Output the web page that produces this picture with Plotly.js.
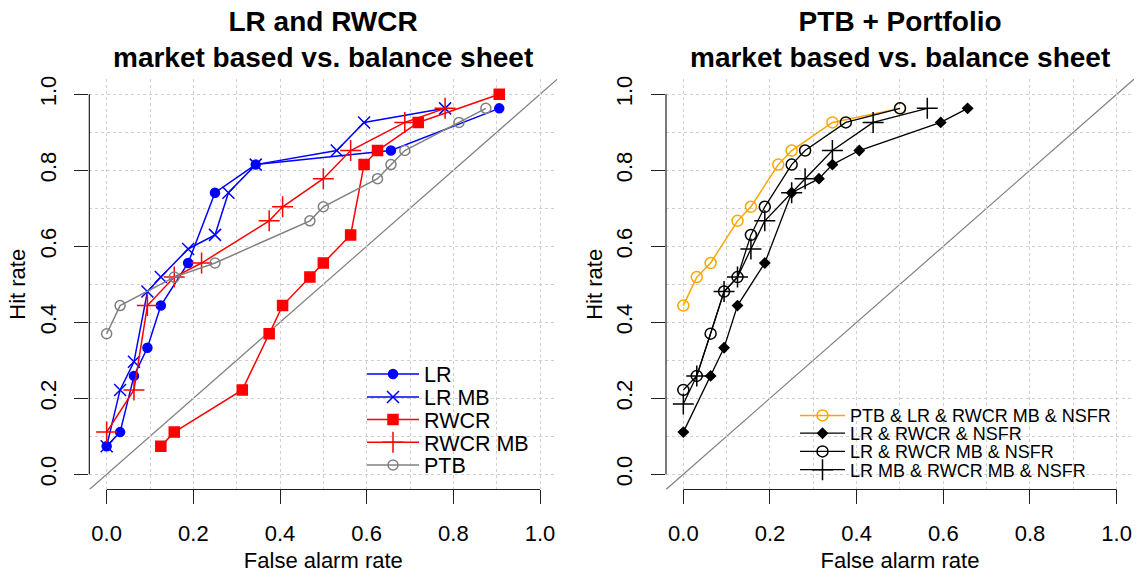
<!DOCTYPE html>
<html>
<head>
<meta charset="utf-8">
<script src="https://cdn.plot.ly/plotly-3.0.1.min.js"></script>
<style>html,body{margin:0;padding:0;background:#fff;}#chart{width:1137px;height:577px;}</style>
</head>
<body>
<div id="chart"></div>
<script>
// ---- Left panel: LR and RWCR ----
const lrX = [0, 0.031, 0.063, 0.094, 0.125, 0.188, 0.25, 0.344, 0.656, 0.906];
const lrY = [0.074, 0.111, 0.259, 0.333, 0.444, 0.556, 0.741, 0.815, 0.852, 0.963];
const lrMbX = [0, 0.031, 0.063, 0.094, 0.125, 0.188, 0.25, 0.281, 0.344, 0.531, 0.594, 0.781];
const lrMbY = [0.074, 0.222, 0.296, 0.481, 0.519, 0.593, 0.630, 0.741, 0.815, 0.852, 0.926, 0.963];
const rwcrX = [0.125, 0.156, 0.313, 0.375, 0.406, 0.469, 0.5, 0.563, 0.594, 0.625, 0.719, 0.906];
const rwcrY = [0.074, 0.111, 0.222, 0.370, 0.444, 0.519, 0.556, 0.630, 0.815, 0.852, 0.926, 1.0];
const rwcrMbX = [0, 0.063, 0.094, 0.156, 0.219, 0.375, 0.406, 0.5, 0.563, 0.688, 0.781];
const rwcrMbY = [0.111, 0.222, 0.444, 0.519, 0.556, 0.667, 0.704, 0.778, 0.852, 0.926, 0.963];
const ptbX = [0, 0.031, 0.156, 0.25, 0.469, 0.5, 0.625, 0.656, 0.688, 0.813, 0.875];
const ptbY = [0.370, 0.444, 0.519, 0.556, 0.667, 0.704, 0.778, 0.815, 0.852, 0.926, 0.963];

// ---- Right panel: PTB + Portfolio ----
const ptbAllX = [0, 0.031, 0.063, 0.125, 0.156, 0.219, 0.25, 0.344, 0.5];
const ptbAllY = [0.444, 0.519, 0.556, 0.667, 0.704, 0.815, 0.852, 0.926, 0.963];
const lrRwcrX = [0, 0.063, 0.094, 0.125, 0.188, 0.25, 0.313, 0.344, 0.406, 0.594, 0.656];
const lrRwcrY = [0.111, 0.259, 0.333, 0.444, 0.556, 0.741, 0.778, 0.815, 0.852, 0.926, 0.963];
const lrRwcrMbX = [0, 0.031, 0.063, 0.094, 0.125, 0.156, 0.188, 0.25, 0.281, 0.375, 0.5];
const lrRwcrMbY = [0.222, 0.259, 0.370, 0.481, 0.519, 0.630, 0.704, 0.815, 0.852, 0.926, 0.963];
const lrMbRwcrMbX = [0, 0.031, 0.094, 0.125, 0.156, 0.188, 0.25, 0.281, 0.344, 0.438, 0.563];
const lrMbRwcrMbY = [0.185, 0.259, 0.481, 0.519, 0.593, 0.667, 0.741, 0.778, 0.852, 0.926, 0.963];

const ticks = [0, 0.2, 0.4, 0.6, 0.8, 1.0];
const tickText = ['0.0', '0.2', '0.4', '0.6', '0.8', '1.0'];

const FONT = 'Liberation Sans, Arial, Helvetica, sans-serif';
const W = 1137, H = 577;

function tr(x, y, name, color, symbol, size, xa, ya, leg, lw) {
  return {
    x: x, y: y, name: name, type: 'scatter', mode: 'lines+markers',
    xaxis: xa, yaxis: ya, legend: leg,
    line: {color: color, width: lw || 1.5},
    marker: {symbol: symbol, size: size, color: color, line: {color: color, width: 1.5}},
    cliponaxis: false
  };
}

const data = [
  tr(lrX, lrY, 'LR', '#0000FF', 'circle', 9, 'x', 'y', 'legend'),
  tr(lrMbX, lrMbY, 'LR MB', '#0000FF', 'x-thin-open', 12, 'x', 'y', 'legend2'),
  tr(rwcrX, rwcrY, 'RWCR', '#FF0000', 'square', 10, 'x', 'y', 'legend3'),
  tr(rwcrMbX, rwcrMbY, 'RWCR MB', '#FF0000', 'cross-thin-open', 15, 'x', 'y', 'legend4'),
  tr(ptbX, ptbY, 'PTB', '#808080', 'circle-open', 10, 'x', 'y', 'legend5'),
  tr(ptbAllX, ptbAllY, 'PTB & LR & RWCR MB & NSFR', '#FFA500', 'circle-open', 11, 'x2', 'y2', 'legend6'),
  tr(lrRwcrX, lrRwcrY, 'LR & RWCR & NSFR', '#000000', 'diamond', 7.5, 'x2', 'y2', 'legend7', 1.3),
  tr(lrRwcrMbX, lrRwcrMbY, 'LR & RWCR MB & NSFR', '#000000', 'circle-open', 11, 'x2', 'y2', 'legend8', 1.3),
  tr(lrMbRwcrMbX, lrMbRwcrMbY, 'LR MB & RWCR MB & NSFR', '#000000', 'cross-thin-open', 15, 'x2', 'y2', 'legend9', 1.3)
];

const GRID = '#cfcfcf';
function xaxis(domain, anchor) {
  return {
    domain: domain, anchor: anchor, range: [-0.04, 1.04], autorange: false,
    tickmode: 'array', tickvals: ticks, ticktext: tickText,
    ticks: 'outside', ticklen: 14, tickwidth: 1, tickcolor: '#222',
    tickfont: {family: FONT, size: 22, color: '#000'}, ticklabelstandoff: 10,
    showline: false, zeroline: false,
    showgrid: true, gridcolor: GRID, griddash: 'dot', gridwidth: 1,
    minor: {tickvals: [0.1, 0.3, 0.5, 0.7, 0.9], showgrid: true, gridcolor: GRID, griddash: 'dot', gridwidth: 1, ticks: ''},
    title: {text: 'False alarm rate', font: {family: FONT, size: 22, color: '#000'}, standoff: 7},
    automargin: false, fixedrange: true
  };
}
function yaxis(anchor) {
  return {
    domain: [0.15165, 0.86291], anchor: anchor, range: [-0.04, 1.04], autorange: false,
    tickmode: 'array', tickvals: ticks, ticktext: tickText, tickangle: -90,
    ticks: 'outside', ticklen: 14, tickwidth: 1, tickcolor: '#222',
    tickfont: {family: FONT, size: 22, color: '#000'}, ticklabelstandoff: 10,
    showline: false, zeroline: false,
    showgrid: true, gridcolor: GRID, griddash: 'dot', gridwidth: 1,
    minor: {tickvals: [0.1, 0.3, 0.5, 0.7, 0.9], showgrid: true, gridcolor: GRID, griddash: 'dot', gridwidth: 1, ticks: ''},
    title: {text: 'Hit rate', font: {family: FONT, size: 22, color: '#000'}, standoff: 3},
    automargin: false, fixedrange: true
  };
}

function leg(xpx, ypx, size, iw) {
  return {
    x: xpx / W, y: 1 - ypx / H, xanchor: 'left', yanchor: 'middle',
    bgcolor: 'rgba(0,0,0,0)', borderwidth: 0, itemwidth: iw,
    font: {family: FONT, size: size, color: '#000'}, tracegroupgap: 0, itemclick: false, itemdoubleclick: false
  };
}

function axisLines(xa, ya) {
  const c = '#222';
  return [
    {type: 'line', xref: xa + ' domain', yref: ya, x0: 0, x1: 0, y0: 0, y1: 1, line: {color: c, width: 1.2}},
    {type: 'line', xref: xa, yref: ya + ' domain', x0: 0, x1: 1, y0: 0, y1: 0, line: {color: c, width: 1.2}},
    {type: 'line', xref: xa, yref: ya, x0: -0.04, y0: -0.04, x1: 1.04, y1: 1.04, line: {color: '#808080', width: 1.2}, layer: 'below'}
  ];
}

const layout = {
  width: W, height: H,
  margin: {l: 0, r: 0, t: 0, b: 0},
  paper_bgcolor: '#fff', plot_bgcolor: '#fff',
  font: {family: FONT, color: '#000'},
  showlegend: true,
  xaxis: xaxis([0.07857, 0.49018], 'y'),
  yaxis: yaxis('x'),
  xaxis2: xaxis([0.58575, 0.99736], 'y2'),
  yaxis2: yaxis('x2'),
  legend: leg(362, 374, 21.5, 52),
  legend2: leg(362, 397, 21.5, 52),
  legend3: leg(362, 419.5, 21.5, 52),
  legend4: leg(362, 442.3, 21.5, 52),
  legend5: leg(362, 465, 21.5, 52),
  legend6: leg(795, 415.7, 18, 45),
  legend7: leg(795, 433.5, 18, 45),
  legend8: leg(795, 451.7, 18, 45),
  legend9: leg(795, 470, 18, 45),
  shapes: axisLines('x', 'y').concat(axisLines('x2', 'y2')),
  annotations: [
    {text: '<b>LR and RWCR</b><br><b>market based vs. balance sheet</b>', xref: 'x domain', yref: 'paper', x: 0.5, y: 1 - 39.5 / H,
     xanchor: 'center', yanchor: 'middle', showarrow: false, font: {family: FONT, size: 28, color: '#000'}},
    {text: '<b>PTB + Portfolio</b><br><b>market based vs. balance sheet</b>', xref: 'x2 domain', yref: 'paper', x: 0.5, y: 1 - 39.5 / H,
     xanchor: 'center', yanchor: 'middle', showarrow: false, font: {family: FONT, size: 28, color: '#000'}}
  ]
};

Plotly.newPlot('chart', data, layout, {displayModeBar: false, staticPlot: true});
</script>
</body>
</html>
